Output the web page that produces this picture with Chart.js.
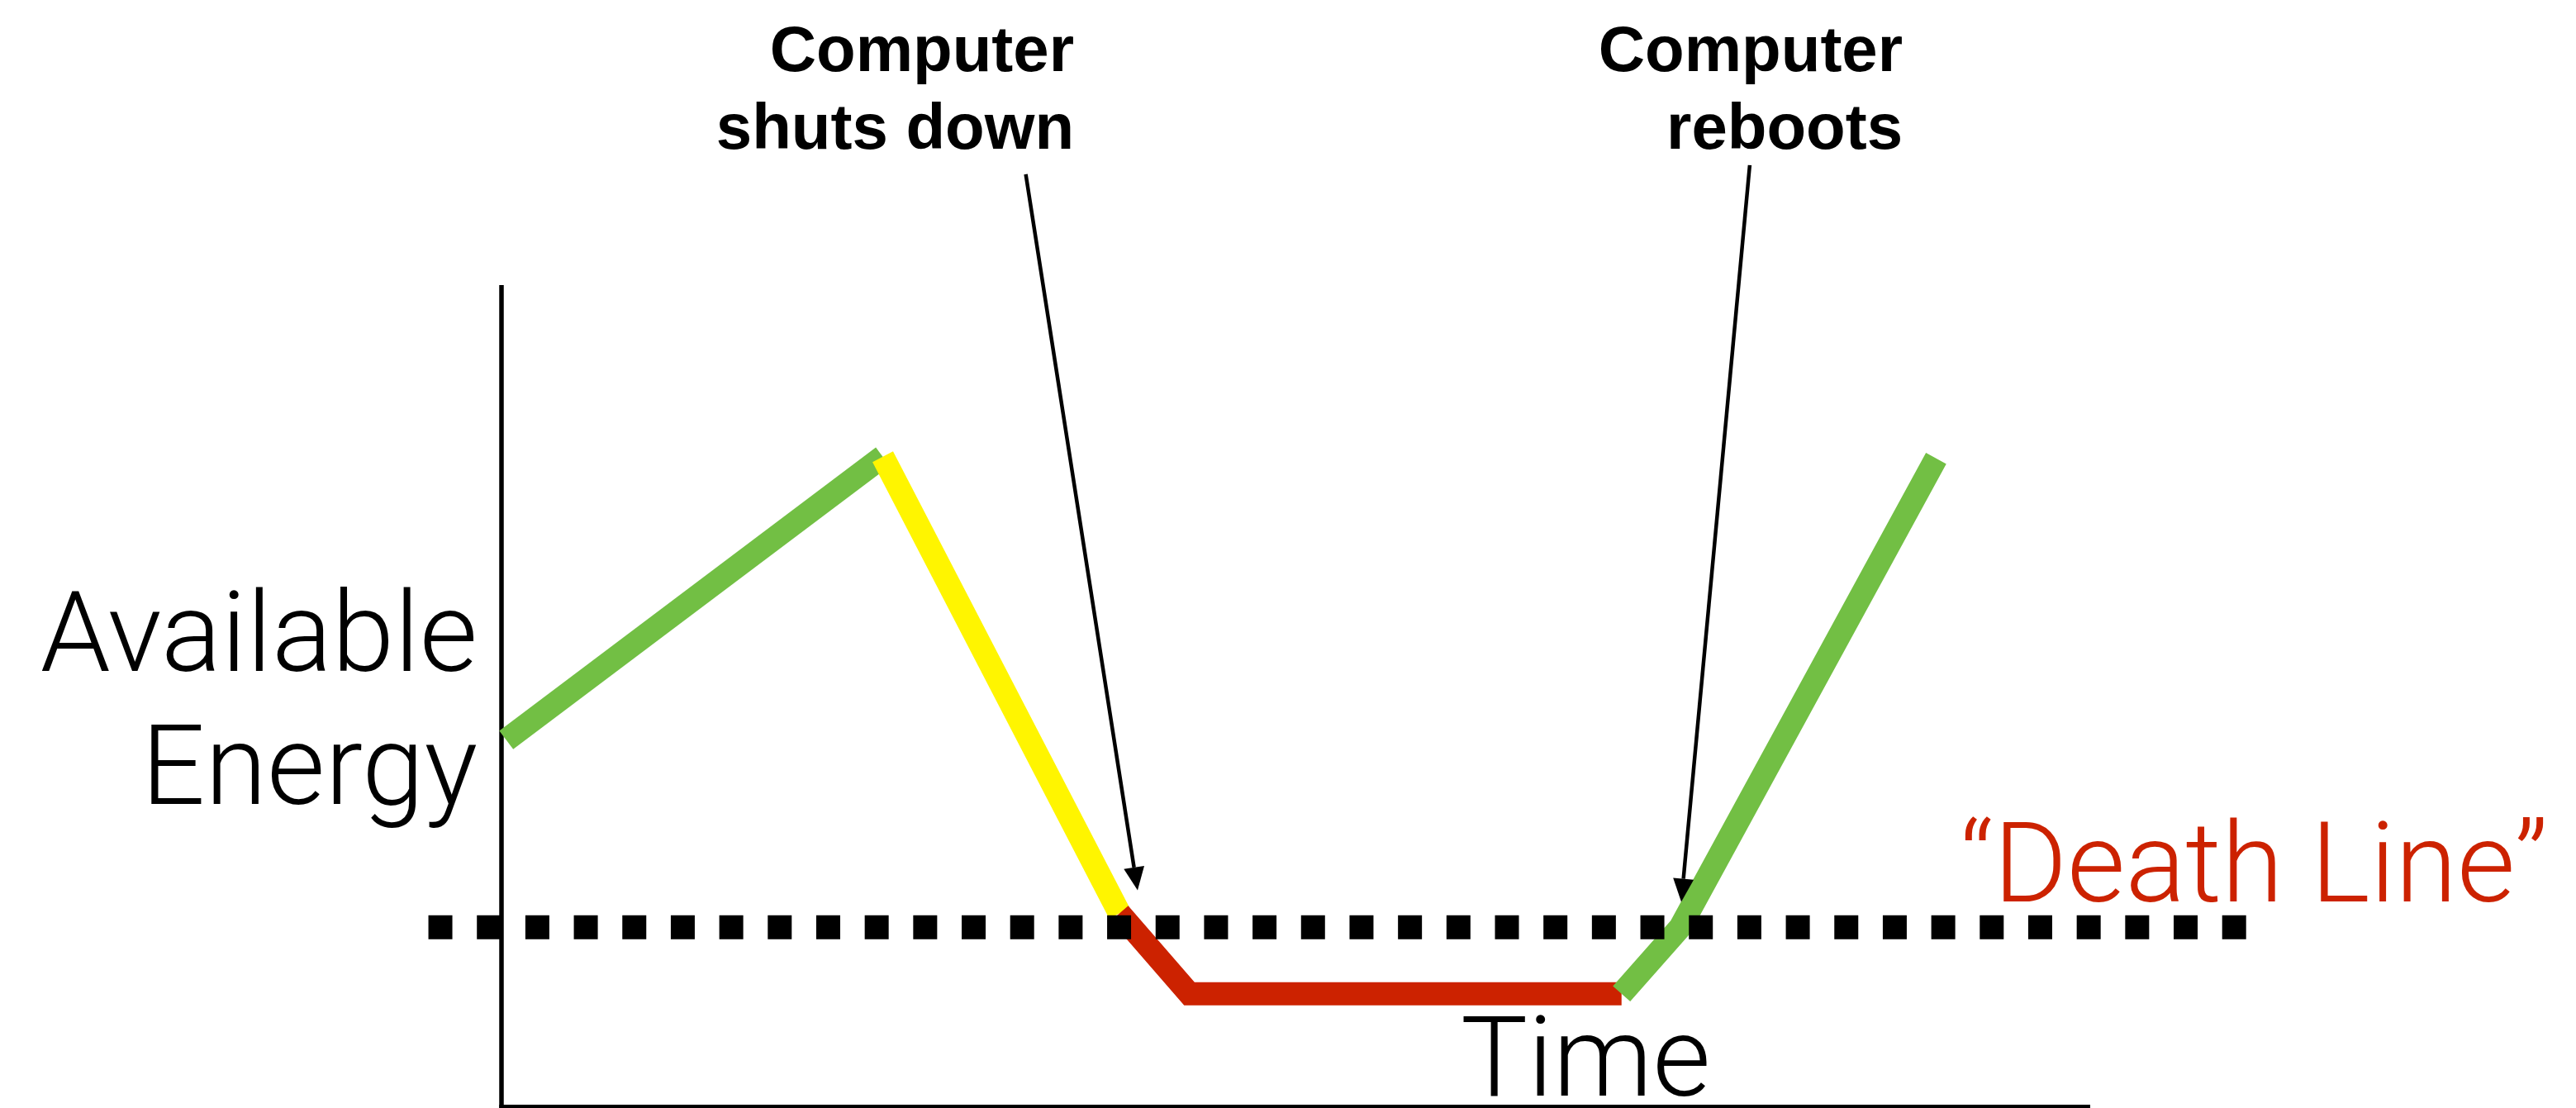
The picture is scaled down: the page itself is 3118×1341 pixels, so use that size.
<!DOCTYPE html>
<html><head><meta charset="utf-8">
<script src="https://cdn.jsdelivr.net/npm/chart.js@4"></script>
<style>html,body{margin:0;padding:0;background:#fff;overflow:hidden}#wrap{width:3118px;height:1341px}canvas{display:block}</style>
</head><body><div id="wrap"><canvas id="c" width="3118" height="1341"></canvas></div>
<script>
// ---- data (x: time, y: available energy, 0..100 units) ----
const green1X = [0.3, 24.0];
const green1Y = [44.6, 79.1];
const yellowX = [24.0, 38.9];
const yellowY = [79.1, 23.5];
const redX = [38.9, 43.3, 70.5];
const redY = [23.5, 13.7, 13.7];
const green2X = [70.5, 74.2, 90.3];
const green2Y = [13.7, 21.8, 78.9];
const deathLineX = [-4.6, 110.0];
const deathLineY = [21.8, 21.8];

// ---- text ----
const yTitle = ["Available", "Energy"];
const xTitle = "Time";
const deathLabel = "\u201CDeath Line\u201D";
const callouts = [["Computer", "shuts down"], ["Computer", "reboots"]];

// ---- annotation anchors (in data units) ----
const calloutRightX = [36.04, 88.2];
const calloutBaselineY = [126.1, 116.6];
const arrowFromX = [33.0, 78.57];
const arrowFromY = [113.5, 114.6];
const arrowToX = [40.04, 74.26];
const arrowToY = [26.3, 24.9];
const yTitleRightX = -1.5;
const yTitleBaselineY = [53.0, 36.8];
const xTitleLeftX = 60.37;
const xTitleBaselineY = 1.3;
const deathLabelLeftX = 91.8;
const deathLabelBaselineY = 24.95;

const GREEN = 'rgb(114,191,68)';
const YELLOW = 'rgb(255,245,0)';
const RED = 'rgb(204,34,0)';
const LIGHT_FONT = '300 136px "Roboto", "Open Sans", "Liberation Sans", sans-serif';
const BOLD_FONT = 'bold 78px "Liberation Sans", Arial, sans-serif';

const pts = (xs, ys) => xs.map((x, i) => ({x: x, y: ys[i]}));
const seg = (label, xs, ys, color, order, extra) => Object.assign({
  label: label, data: pts(xs, ys), showLine: true, borderColor: color, backgroundColor: color,
  borderWidth: 28, pointRadius: 0, pointHoverRadius: 0, fill: false, tension: 0,
  borderCapStyle: 'butt', borderJoinStyle: 'bevel', clip: false, order: order
}, extra || {});

const axesPlugin = {
  id: 'axes',
  beforeDatasetsDraw(chart) {
    const {ctx, chartArea: a} = chart;
    ctx.save();
    ctx.strokeStyle = '#000';
    ctx.lineCap = 'butt';
    ctx.lineWidth = 5.5;
    ctx.beginPath(); ctx.moveTo(a.left, a.top); ctx.lineTo(a.left, a.bottom + 2); ctx.stroke();
    ctx.lineWidth = 4;
    ctx.beginPath(); ctx.moveTo(a.left - 2.75, a.bottom); ctx.lineTo(a.right, a.bottom); ctx.stroke();
    ctx.restore();
  }
};

const annotationPlugin = {
  id: 'annot',
  afterDraw(chart) {
    const {ctx} = chart;
    const xs = chart.scales.x, ys = chart.scales.y;
    const px = v => xs.getPixelForValue(v), py = v => ys.getPixelForValue(v);
    ctx.save();
    // y title
    ctx.fillStyle = '#000';
    ctx.font = LIGHT_FONT;
    ctx.textBaseline = 'alphabetic';
    ctx.textAlign = 'right';
    yTitle.forEach((t, i) => ctx.fillText(t, px(yTitleRightX), py(yTitleBaselineY[i])));
    // x title
    ctx.textAlign = 'left';
    ctx.fillText(xTitle, px(xTitleLeftX), py(xTitleBaselineY));
    // death line label
    ctx.fillStyle = RED;
    ctx.fillText(deathLabel, px(deathLabelLeftX), py(deathLabelBaselineY));
    // callouts
    ctx.fillStyle = '#000';
    ctx.font = BOLD_FONT;
    ctx.textAlign = 'right';
    callouts.forEach((lines, k) => {
      lines.forEach((t, i) => ctx.fillText(t, px(calloutRightX[k]), py(calloutBaselineY[i])));
    });
    // arrows
    ctx.strokeStyle = '#000';
    ctx.lineWidth = 4.5;
    arrowFromX.forEach((_, k) => {
      const x0 = px(arrowFromX[k]), y0 = py(arrowFromY[k]);
      const x1 = px(arrowToX[k]), y1 = py(arrowToY[k]);
      const ang = Math.atan2(y1 - y0, x1 - x0);
      const headLen = 28, headHalf = 12.5;
      const bx = x1 - headLen * Math.cos(ang), by = y1 - headLen * Math.sin(ang);
      ctx.beginPath(); ctx.moveTo(x0, y0); ctx.lineTo(bx, by); ctx.stroke();
      const nx = -Math.sin(ang), ny = Math.cos(ang);
      ctx.beginPath();
      ctx.moveTo(x1, y1);
      ctx.lineTo(bx + nx * headHalf, by + ny * headHalf);
      ctx.lineTo(bx - nx * headHalf, by - ny * headHalf);
      ctx.closePath(); ctx.fill();
    });
    ctx.restore();
  }
};

new Chart(document.getElementById('c'), {
  type: 'scatter',
  data: {
    datasets: [
      seg('Death line', deathLineX, deathLineY, '#000', 0, {borderWidth: 29, borderDash: [29, 29.68]}),
      seg('Reboot', green2X, green2Y, GREEN, 1),
      seg('Off', redX, redY, RED, 2, {borderJoinStyle: 'miter'}),
      seg('Draining', yellowX, yellowY, YELLOW, 3),
      seg('Charging', green1X, green1Y, GREEN, 4)
    ]
  },
  options: {
    responsive: false,
    animation: false,
    events: [],
    layout: {padding: {left: 607, right: 588, top: 345, bottom: 2}},
    plugins: {legend: {display: false}, tooltip: {enabled: false}, title: {display: false}},
    scales: {
      x: {type: 'linear', display: false, min: 0, max: 100},
      y: {type: 'linear', display: false, min: 0, max: 100}
    }
  },
  plugins: [axesPlugin, annotationPlugin]
});
</script>
</body></html>
